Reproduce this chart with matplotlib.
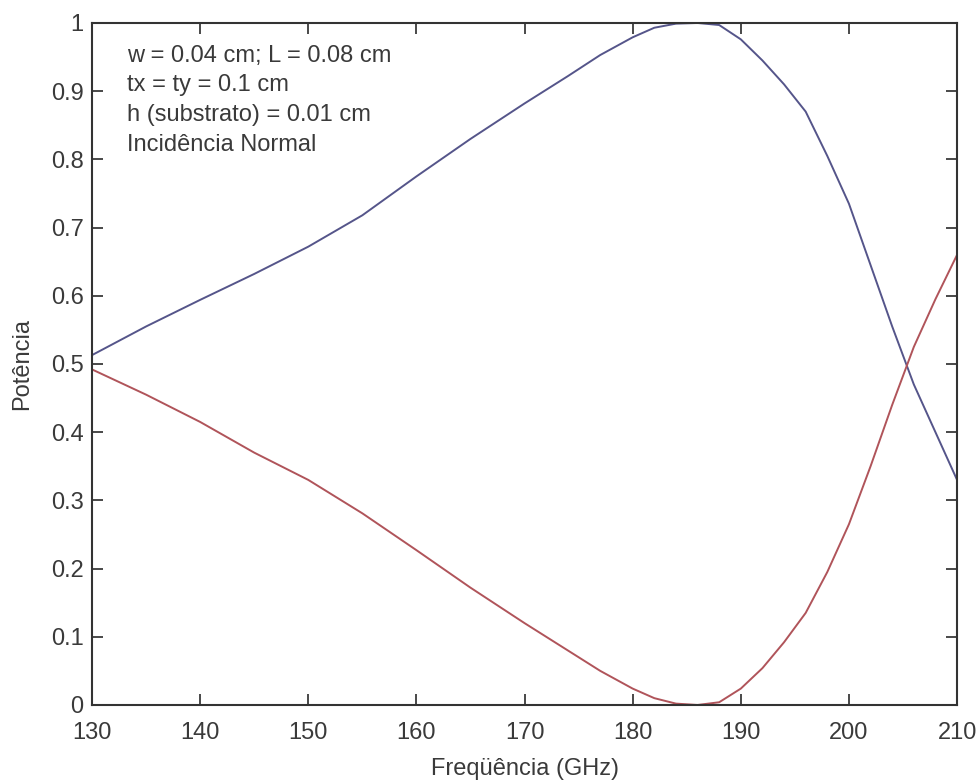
import matplotlib
matplotlib.use("Agg")
import matplotlib.pyplot as plt

plt.rcParams['font.family'] = ['Liberation Sans', 'DejaVu Sans']

freq = [130, 135, 140, 145, 150, 155, 160, 165, 170, 174, 177, 180, 182, 184,
        186, 188, 190, 192, 194, 196, 198, 200, 202, 204, 206, 208, 210]
transmitida = [0.513, 0.555, 0.594, 0.632, 0.672, 0.718, 0.775, 0.830, 0.882,
               0.922, 0.953, 0.979, 0.993, 0.999, 1.000, 0.997, 0.976, 0.945,
               0.910, 0.870, 0.805, 0.735, 0.645, 0.555, 0.470, 0.400, 0.330]
refletida = [0.492, 0.455, 0.415, 0.370, 0.330, 0.281, 0.227, 0.172, 0.120,
             0.080, 0.050, 0.024, 0.010, 0.002, 0.000, 0.004, 0.024, 0.054,
             0.092, 0.135, 0.195, 0.265, 0.350, 0.440, 0.525, 0.595, 0.660]

xticks = [130, 140, 150, 160, 170, 180, 190, 200, 210]
yticks = [0, 0.1, 0.2, 0.3, 0.4, 0.5, 0.6, 0.7, 0.8, 0.9, 1]
ytick_labels = ['0', '0.1', '0.2', '0.3', '0.4', '0.5', '0.6', '0.7', '0.8', '0.9', '1']
annotation = ["w = 0.04 cm; L = 0.08 cm", "tx = ty = 0.1 cm",
              "h (substrato) = 0.01 cm", "Incidência Normal"]

fig = plt.figure(figsize=(9.8, 7.84), dpi=100)
ax = fig.add_axes([0.0939, 0.1008, 0.9826 - 0.0939 - 0.006, 0.9707 - 0.1008])

ax.plot(freq, transmitida, color='#55558a', lw=1.4)
ax.plot(freq, refletida, color='#b0545a', lw=1.4)

ax.set_xlim(130, 210)
ax.set_ylim(0, 1)
ax.set_xticks(xticks)
ax.set_xticklabels([str(t) for t in xticks])
ax.set_yticks(yticks)
ax.set_yticklabels(ytick_labels)
ax.tick_params(direction='in', length=8, width=1.3, top=True, right=True,
               labelsize=17, colors='#3a3a3a')
ax.tick_params(axis='x', pad=12)
ax.tick_params(axis='y', pad=6)
for s in ax.spines.values():
    s.set_linewidth(1.5)
    s.set_color('#333333')

ax.set_xlabel('Freqüência (GHz)', fontsize=17, color='#3a3a3a', labelpad=10)
ax.set_ylabel('Potência', fontsize=17, color='#3a3a3a', labelpad=13)

ax.text(0.041, 0.968, "\n".join(annotation), transform=ax.transAxes,
        fontsize=17, color='#3a3a3a', va='top', ha='left', linespacing=1.45)

fig.savefig('out.png', dpi=100)
